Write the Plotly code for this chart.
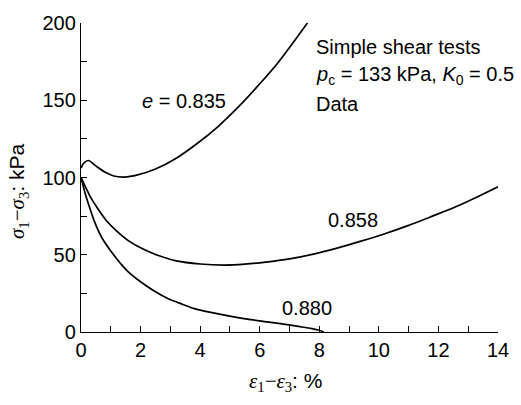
import plotly.graph_objects as go

# Simple shear tests: deviator stress vs. strain difference for three void ratios
strain_0835 = [0, 0.1, 0.25, 0.5, 0.8, 1.1, 1.45, 1.9, 2.5, 3.2, 3.9, 4.6, 5.3, 5.9, 6.6, 7.6]
stress_0835 = [106, 109.5, 111, 107.5, 103.5, 101, 100.3, 101.7, 105.5, 112.5, 122, 133, 146, 158.5, 174, 200]

strain_0858 = [0, 0.15, 0.3, 0.56, 0.9, 1.22, 1.6, 2.1, 2.6, 3.2, 4.0, 4.8, 5.5, 6.2,
               7.0, 7.8, 8.6, 9.4, 10.2, 11.0, 11.8, 12.6, 13.3, 14.0]
stress_0858 = [100, 94, 88, 80, 71, 65, 59, 53.5, 49.5, 46, 44, 43.3, 43.9, 45.2,
               47.3, 50.4, 54.3, 58.8, 63.6, 69, 75, 81.2, 87.4, 94]

strain_0880 = [0, 0.15, 0.3, 0.45, 0.7, 1.0, 1.3, 1.55, 2.0, 2.5, 2.93, 3.4, 3.81, 4.4,
               5.13, 5.7, 6.23, 6.8, 7.3, 7.75, 8.0, 8.15]
stress_0880 = [100, 89, 80, 71.6, 61, 52.4, 45, 39.6, 32.5, 26, 21.5, 18, 15.1, 12.5,
               9.8, 8, 6.6, 5.1, 3.6, 2.2, 1.1, 0]

x_ticks = [0, 2, 4, 6, 8, 10, 12, 14]
y_ticks = [0, 50, 100, 150, 200]

SANS = "Liberation Sans, Arial, sans-serif"
SERIF = "Liberation Serif, Times New Roman, serif"

fig = go.Figure()
for xs, ys in [(strain_0835, stress_0835), (strain_0858, stress_0858), (strain_0880, stress_0880)]:
    fig.add_trace(go.Scatter(
        x=xs, y=ys, mode="lines",
        line=dict(color="black", width=1.7, shape="spline", smoothing=0.9),
        showlegend=False, hoverinfo="skip",
    ))

axis_common = dict(
    showline=True, linecolor="black", linewidth=1.4,
    ticks="inside", ticklen=6, tickwidth=1.2, tickcolor="black",
    showgrid=False, zeroline=False, mirror=False,
    tickfont=dict(family=SANS, size=20, color="black"),
)

fig.update_xaxes(range=[0, 14], tickvals=x_ticks,
                 minor=dict(ticks="inside", ticklen=6, tickwidth=1.2, tickcolor="black", dtick=1),
                 **axis_common)
fig.update_yaxes(range=[0, 200], tickvals=y_ticks,
                 minor=dict(ticks="inside", ticklen=6, tickwidth=1.2, tickcolor="black", dtick=25),
                 **axis_common)

annotations = [
    # curve labels
    dict(x=3.45, y=149.3, text="<i>e</i> = 0.835", xanchor="center", yanchor="middle"),
    dict(x=9.13, y=72.6, text="0.858", xanchor="center", yanchor="middle"),
    dict(x=7.58, y=15.8, text="0.880", xanchor="center", yanchor="middle"),
    # test description
    dict(x=7.81, y=184.7, text="Simple shear tests", xanchor="left", yanchor="middle"),
    dict(x=7.81, y=166.1, text="<i>p</i><sub>c</sub> = 133 kPa, <i>K</i><sub>0</sub> = 0.5",
         xanchor="left", yanchor="middle"),
    dict(x=7.81, y=147.6, text="Data", xanchor="left", yanchor="middle"),
]
for a in annotations:
    a.update(xref="x", yref="y", showarrow=False,
             font=dict(family=SANS, size=20, color="black"))

# axis titles
annotations.append(dict(
    xref="paper", yref="paper", x=(289 - 81) / 425, y=(332 - 383) / 313,
    text="<i>ε</i><sub>1</sub>−<i>ε</i><sub>3</sub><span style='font-family:Liberation Sans'>: %</span>",
    showarrow=False, xanchor="center", yanchor="middle",
    font=dict(family=SERIF, size=21, color="black"),
))
annotations.append(dict(
    xref="paper", yref="paper", x=(17 - 81) / 425, y=(332 - 190) / 313,
    text="<i>σ</i><sub>1</sub>−<i>σ</i><sub>3</sub><span style='font-family:Liberation Sans'>: kPa</span>",
    showarrow=False, xanchor="center", yanchor="middle", textangle=-90,
    font=dict(family=SERIF, size=21, color="black"),
))

fig.update_layout(
    width=521, height=405,
    margin=dict(l=81, r=15, t=19, b=73),
    paper_bgcolor="white", plot_bgcolor="white",
    annotations=annotations,
)

fig.write_html("out.html")
